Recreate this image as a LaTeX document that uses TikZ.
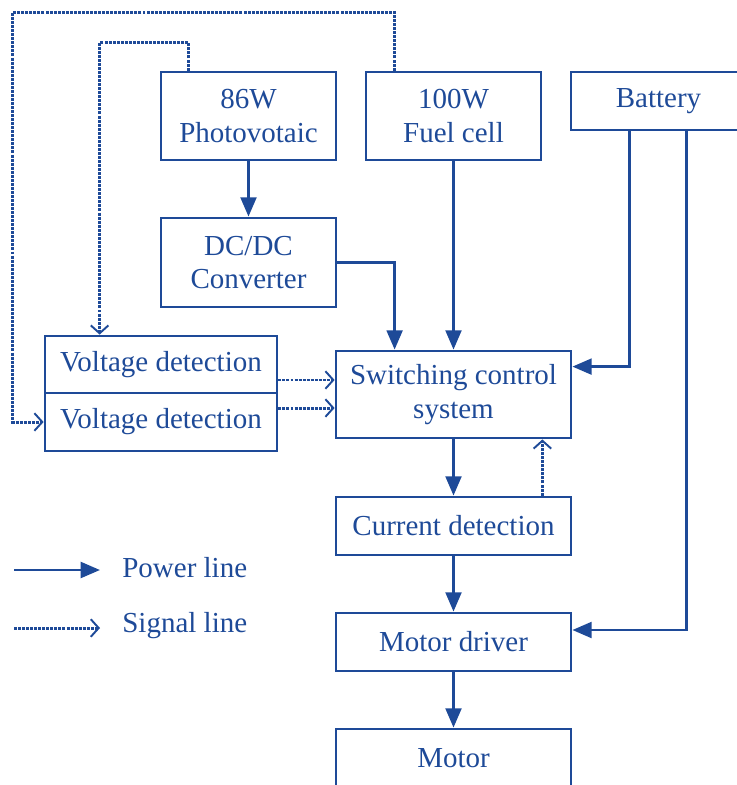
\documentclass[tikz,border=0pt]{standalone}
\usepackage{fontspec}
\setmainfont{Liberation Serif}
\usetikzlibrary{arrows.meta,positioning}
\definecolor{dblue}{RGB}{30,74,152}

\begin{document}
\begin{tikzpicture}[x=0.02cm,y=-0.02cm,
  box/.style={draw=dblue,line width=1.6pt,text=dblue,inner sep=0pt,align=center,
    font=\fontsize{16.5}{19}\selectfont},
  pwr/.style={draw=dblue,line width=1.6pt,-{Triangle[length=11pt,width=9pt]}},
  sig/.style={draw=dblue,line width=1.7pt,dash pattern=on 1.7pt off 0.6pt,
    -{Straight Barb[length=4.5pt,width=10pt,line width=1.1pt]}},
  lbl/.style={text=dblue,font=\fontsize{16.5}{19}\selectfont,inner sep=0pt}]
  \useasboundingbox (0,0) rectangle (737,785);
  \clip (0,0) rectangle (737,785);
  % sources
  \node[box,minimum width=3.5cm,minimum height=1.76cm] (pv) at (248.5,116) {86W\\Photovotaic};
  \node[box,minimum width=3.5cm,minimum height=1.76cm] (fc) at (453.5,116) {100W\\Fuel cell};
  \node[box,minimum width=3.5cm,minimum height=1.16cm] (bat) at (658.5,101) {Battery};
  \node[box,minimum width=3.5cm,minimum height=1.78cm] (dcdc) at (248.5,262.5) {DC/DC\\Converter};
  % control
  \node[box,minimum width=4.7cm,minimum height=1.74cm] (sw) at (453.5,394.5) {Switching control\\system};
  \node[box,minimum width=4.64cm,minimum height=1.14cm] (vd1) at (161,364.5) {Voltage detection};
  \node[box,minimum width=4.64cm,minimum height=1.16cm] (vd2) at (161,422) {Voltage detection};
  \node[box,minimum width=4.7cm,minimum height=1.16cm] (cd) at (453.5,526) {Current detection};
  \node[box,minimum width=4.7cm,minimum height=1.16cm] (md) at (453.5,642) {Motor driver};
  \node[box,minimum width=4.7cm,minimum height=1.16cm] (mo) at (453.5,758) {Motor};
  % power lines
  \draw[pwr] (pv) -- (dcdc);
  \draw[pwr] (dcdc.east) -| ([xshift=1.2cm]sw.north west);
  \draw[pwr] (fc.south) -- (fc.south |- sw.north);
  \draw[pwr] ([xshift=1.2cm]bat.south west) |- ([yshift=-0.34cm]sw.north east);
  \draw[pwr] ([xshift=2.34cm]bat.south west) |- ([yshift=0.24cm]md.east);
  \draw[pwr] (sw) -- (cd);
  \draw[pwr] (cd) -- (md);
  \draw[pwr] (md) -- (mo);
  % signal lines
  \draw[sig] ([xshift=-0.6cm]cd.north east) -- ([xshift=-0.6cm]sw.south east);
  \draw[sig] ([xshift=0.58cm]pv.north west) -- ++(0,-28) -| ([xshift=1.12cm]vd1.north west);
  \draw[sig] ([xshift=0.6cm]fc.north west) -- ++(0,-58) -| ([xshift=-0.62cm]vd2.west) -- (vd2.west);
  \draw[sig] ([yshift=-0.31cm]vd1.east) coordinate (s1) -- (s1 -| sw.west);
  \draw[sig] ([yshift=0.28cm]vd2.east) coordinate (s2) -- (s2 -| sw.west);
  % legend
  \coordinate (p0) at (14,570); \coordinate (p1) at (100,570);
  \coordinate (q0) at (14,628); \coordinate (q1) at (100,628);
  \draw[pwr] (p0) -- (p1);
  \draw[sig] (q0) -- (q1);
  \node[lbl,anchor=west] (ptext) at (122,568) {Power line};
  \node[lbl,anchor=west] (qtext) at (122,626) {Signal line};
\end{tikzpicture}
\end{document}
